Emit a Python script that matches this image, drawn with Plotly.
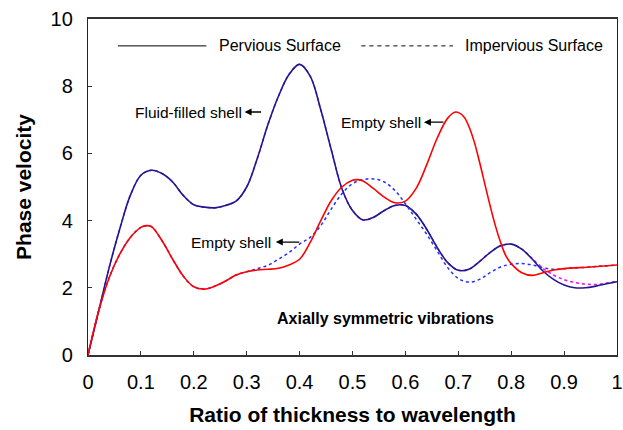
import plotly.graph_objects as go

# ---- data ----
x_fluid_perv = [0, 0.02, 0.04, 0.06, 0.08, 0.10, 0.12, 0.14, 0.16, 0.18, 0.20, 0.22, 0.24, 0.26,
                0.28, 0.30, 0.32, 0.34, 0.36, 0.38, 0.40, 0.42, 0.44, 0.46, 0.48, 0.50, 0.52,
                0.54, 0.56, 0.58, 0.60, 0.62, 0.64, 0.66, 0.68, 0.70, 0.72, 0.74, 0.76, 0.78,
                0.80, 0.82, 0.84, 0.86, 0.88, 0.90, 0.92, 0.94, 0.96, 0.98, 1.0]
y_fluid_perv = [0, 1.3, 2.6, 3.75, 4.75, 5.35, 5.5, 5.4, 5.15, 4.75, 4.47, 4.4, 4.38, 4.45,
                4.58, 5.0, 5.85, 6.85, 7.7, 8.35, 8.65, 8.3, 7.3, 6.1, 4.95, 4.3, 4.02,
                4.1, 4.3, 4.45, 4.45, 4.2, 3.75, 3.2, 2.75, 2.52, 2.55, 2.78, 3.05, 3.25,
                3.3, 3.15, 2.85, 2.5, 2.25, 2.08, 2.0, 2.0, 2.05, 2.12, 2.18]

x_fluid_imp = [0, 0.02, 0.04, 0.06, 0.08, 0.10, 0.12, 0.14, 0.16, 0.18, 0.20, 0.22, 0.24, 0.26,
               0.28, 0.30, 0.32, 0.34, 0.36, 0.38, 0.40, 0.42, 0.44, 0.46, 0.48, 0.50, 0.52,
               0.54, 0.56, 0.58, 0.60, 0.62, 0.64, 0.66, 0.68, 0.70, 0.72, 0.74, 0.76, 0.78,
               0.80, 0.82, 0.84, 0.86, 0.88, 0.90, 0.92, 0.94, 0.96, 0.98, 1.0]
y_fluid_imp = [0, 1.3, 2.6, 3.75, 4.75, 5.35, 5.5, 5.4, 5.15, 4.75, 4.47, 4.4, 4.38, 4.45,
               4.58, 5.0, 5.85, 6.85, 7.7, 8.35, 8.65, 8.3, 7.3, 6.1, 4.95, 4.3, 4.02,
               4.1, 4.3, 4.45, 4.45, 4.2, 3.75, 3.2, 2.75, 2.52, 2.55, 2.78, 3.05, 3.25,
               3.3, 3.15, 2.87, 2.58, 2.38, 2.24, 2.16, 2.11, 2.1, 2.14, 2.2]

x_empty_perv = [0, 0.02, 0.04, 0.06, 0.08, 0.10, 0.11, 0.12, 0.14, 0.16, 0.18, 0.20, 0.22, 0.24,
                0.26, 0.28, 0.30, 0.32, 0.34, 0.36, 0.38, 0.40, 0.42, 0.44, 0.46, 0.48, 0.50,
                0.51, 0.52, 0.54, 0.56, 0.58, 0.60, 0.62, 0.64, 0.66, 0.68, 0.695, 0.71, 0.72,
                0.73, 0.74, 0.75, 0.76, 0.77, 0.78, 0.79, 0.80, 0.82, 0.84, 0.86, 0.88, 0.90,
                0.95, 1.0]
y_empty_perv = [0, 1.3, 2.3, 3.0, 3.5, 3.8, 3.85, 3.82, 3.4, 2.85, 2.35, 2.03, 1.96, 2.05,
                2.2, 2.38, 2.48, 2.53, 2.55, 2.58, 2.68, 2.85, 3.35, 4.0, 4.6, 5.0, 5.2,
                5.22, 5.18, 4.95, 4.7, 4.53, 4.58, 4.95, 5.65, 6.45, 7.05, 7.23, 7.1, 6.8,
                6.35, 5.75, 5.1, 4.45, 3.85, 3.35, 2.95, 2.72, 2.45, 2.37, 2.45, 2.53, 2.57,
                2.62, 2.68]

x_empty_imp = [0, 0.02, 0.04, 0.06, 0.08, 0.10, 0.11, 0.12, 0.14, 0.16, 0.18, 0.20, 0.22, 0.24,
               0.26, 0.28, 0.30, 0.32, 0.34, 0.36, 0.38, 0.40, 0.42, 0.44, 0.46, 0.48, 0.50,
               0.52, 0.54, 0.56, 0.58, 0.60, 0.62, 0.64, 0.66, 0.68, 0.70, 0.72, 0.74, 0.76,
               0.78, 0.80, 0.82, 0.84, 0.86, 0.88, 0.90, 0.95, 1.0]
y_empty_imp = [0, 1.3, 2.3, 3.0, 3.5, 3.8, 3.85, 3.82, 3.4, 2.85, 2.35, 2.03, 1.96, 2.05,
               2.2, 2.38, 2.48, 2.57, 2.67, 2.85, 3.05, 3.3, 3.5, 3.85, 4.35, 4.8, 5.1,
               5.22, 5.24, 5.15, 4.9, 4.5, 4.05, 3.6, 3.1, 2.6, 2.28, 2.17, 2.25, 2.45,
               2.62, 2.7, 2.72, 2.68, 2.6, 2.55, 2.57, 2.62, 2.68]

x_tick_vals = [0, 0.1, 0.2, 0.3, 0.4, 0.5, 0.6, 0.7, 0.8, 0.9, 1]
x_tick_text = ["0", "0.1", "0.2", "0.3", "0.4", "0.5", "0.6", "0.7", "0.8", "0.9", "1"]
y_tick_vals = [0, 2, 4, 6, 8, 10]

FONT = "Arial, Liberation Sans, sans-serif"

fig = go.Figure()
fig.add_trace(go.Scatter(x=x_fluid_imp, y=y_fluid_imp, mode="lines",
                         line=dict(color="#ff00ff", width=1.5, dash="dot", shape="spline"),
                         name="Fluid-filled, impervious"))
fig.add_trace(go.Scatter(x=x_fluid_perv, y=y_fluid_perv, mode="lines",
                         line=dict(color="#1a1a8c", width=1.6, shape="spline"),
                         name="Fluid-filled, pervious"))
fig.add_trace(go.Scatter(x=x_empty_imp, y=y_empty_imp, mode="lines",
                         line=dict(color="#2030ff", width=1.5, dash="dot", shape="spline"),
                         name="Empty, impervious"))
fig.add_trace(go.Scatter(x=x_empty_perv, y=y_empty_perv, mode="lines",
                         line=dict(color="#ff0000", width=1.6, shape="spline"),
                         name="Empty, pervious"))

# legend-like samples
fig.add_shape(type="line", x0=0.0564, x1=0.2237, y0=9.2, y1=9.2, xref="x", yref="y",
              line=dict(color="black", width=1))
fig.add_shape(type="line", x0=0.5169, x1=0.6898, y0=9.2, y1=9.2, xref="x", yref="y",
              line=dict(color="black", width=1, dash="4px,4px"))

def text_ann(x, y, s, size=15, bold=False):
    fig.add_annotation(x=x, y=y, xref="x", yref="y", text=("<b>%s</b>" % s) if bold else s,
                       showarrow=False, xanchor="left", yanchor="middle",
                       font=dict(family=FONT, size=size, color="black"))

def arrow_ann(x, y, ax):
    fig.add_annotation(x=x, y=y, xref="x", yref="y", text="", showarrow=True,
                       ax=ax, ay=0, arrowhead=2, arrowsize=1, arrowwidth=1.4,
                       arrowcolor="black", standoff=0, startstandoff=0)

text_ann(0.2444, 9.2, "Pervious Surface", 16)
text_ann(0.7086, 9.2, "Impervious Surface", 16)
text_ann(0.0846, 7.23, "Fluid-filled shell", 15.5)
arrow_ann(0.296, 7.23, 18)
text_ann(0.4737, 6.93, "Empty shell", 15.5)
arrow_ann(0.635, 6.93, 21)
text_ann(0.1917, 3.36, "Empty shell", 15.5)
arrow_ann(0.355, 3.36, 25)
text_ann(0.353, 1.10, "Axially symmetric vibrations", 16, bold=True)

fig.update_layout(
    width=623, height=430,
    margin=dict(l=88, r=6, t=19, b=75),
    paper_bgcolor="white", plot_bgcolor="white",
    showlegend=False,
    font=dict(family=FONT, color="black"),
)
fig.update_xaxes(range=[0, 1], tickvals=x_tick_vals, ticktext=x_tick_text,
                 ticks="inside", ticklen=4, tickcolor="#333", tickwidth=1,
                 showline=True, linecolor="#333", linewidth=1.6, mirror=True,
                 showgrid=False, zeroline=False, automargin=False,
                 tickfont=dict(family=FONT, size=20, color="black"),
                 ticklabelstandoff=8, ticklabeloverflow="allow",
                 title=dict(text="<b>Ratio of thickness to wavelength</b>",
                            font=dict(family=FONT, size=21, color="black"), standoff=16))
fig.update_yaxes(range=[0, 10], tickvals=y_tick_vals,
                 ticks="inside", ticklen=4, tickcolor="#333", tickwidth=1,
                 showline=True, linecolor="#222", linewidth=1.3, mirror=True,
                 showgrid=False, zeroline=False, automargin=False,
                 tickfont=dict(family=FONT, size=20, color="black"),
                 ticklabelstandoff=10, ticklabeloverflow="allow",
                 title=dict(text="<b>Phase velocity</b>",
                            font=dict(family=FONT, size=21, color="black"), standoff=13))

fig.write_html("out.html", config={"displayModeBar": False},
               post_script="document.body.style.margin='0px';")
